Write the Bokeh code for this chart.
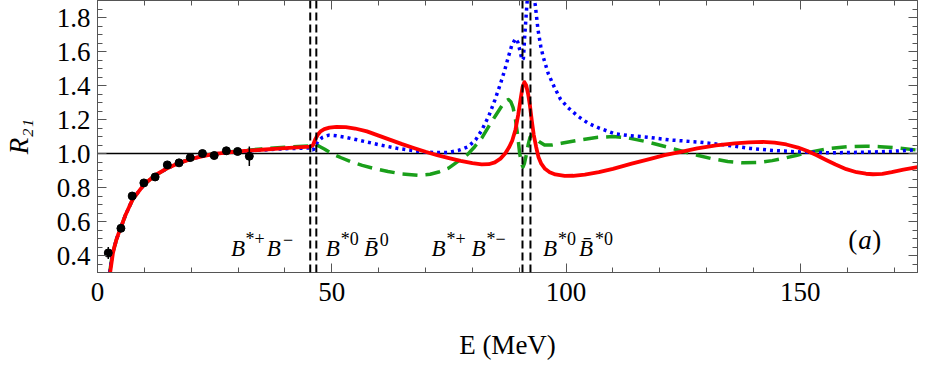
import math
from bokeh.plotting import figure
from bokeh.models import (Span, Label, LinearAxis, SingleIntervalTicker, ColumnDataSource,
                          PrintfTickFormatter, CustomJSTickFormatter)
from bokeh.embed import file_html
from bokeh.resources import INLINE

# ---------------- data ----------------
data_E = [2.3, 5.0, 7.4, 9.9, 12.3, 14.9, 17.4, 19.8, 22.4, 24.9, 27.5, 29.9, 32.4]
data_R = [0.415, 0.56, 0.75, 0.827, 0.862, 0.933, 0.945, 0.976, 1.0, 0.988, 1.016, 1.012, 0.984]
data_err = [0.035, 0.02, 0.02, 0.02, 0.02, 0.02, 0.02, 0.02, 0.02, 0.02, 0.02, 0.02, 0.057]

red_E = [2.7, 3.3, 3.6, 4.0, 4.5, 5.0, 6.0, 7.5, 10, 12.5, 15, 17.5, 20, 22.5, 25, 30, 35, 40, 45.4,
         46.0, 46.5, 47.0, 47.6, 48.4, 49.5, 51, 53, 55, 57.5, 60, 62.5, 65, 67.5, 70, 72.5, 75, 77.5,
         80, 82, 83.5, 84.8, 86, 87, 87.8, 88.5, 89.2, 89.8, 90.3, 90.7, 91.1, 91.5, 91.9, 92.3, 92.7,
         93.1, 93.6, 94.1, 94.7, 95.5, 96.5, 97.7, 99.7, 101.5, 104, 107, 110, 114, 118, 121, 124.5,
         128, 132, 136, 139, 142, 144.5, 147, 149.5, 151.5, 153.5, 155.5, 157.5, 159.8, 162, 164,
         165.5, 167.5, 169.5, 172, 175]
red_R = [0.30, 0.415, 0.45, 0.49, 0.53, 0.565, 0.64, 0.73, 0.82, 0.875, 0.915, 0.945, 0.968, 0.985,
         0.998, 1.012, 1.022, 1.032, 1.04, 1.05, 1.085, 1.11, 1.13, 1.143, 1.152, 1.157, 1.155, 1.147,
         1.13, 1.105, 1.08, 1.055, 1.032, 1.01, 0.99, 0.973, 0.957, 0.943, 0.936, 0.937, 0.948, 0.97,
         1.0, 1.035, 1.075, 1.14, 1.23, 1.32, 1.39, 1.42, 1.40, 1.35, 1.28, 1.19, 1.11, 1.04, 0.98,
         0.94, 0.91, 0.89, 0.877, 0.868, 0.869, 0.876, 0.89, 0.91, 0.94, 0.968, 0.99, 1.01, 1.03,
         1.048, 1.06, 1.066, 1.068, 1.064, 1.053, 1.035, 1.015, 0.99, 0.962, 0.935, 0.908, 0.89,
         0.881, 0.878, 0.88, 0.89, 0.905, 0.92]

green_E = [2.6, 3.2, 3.6, 4.0, 4.5, 5.0, 6.0, 7.5, 10, 12.5, 15, 17.5, 20, 22.5, 25, 30, 35, 40, 45.4,
           46.0, 46.6, 47.5, 48.5, 50, 52, 54, 56.5, 59, 62, 65, 68.6, 71, 73, 75, 77, 79, 80.5, 82,
           83.5, 85, 86.3, 87.2, 87.7, 88.2, 88.7, 89.2, 89.7, 90.1, 90.5, 90.8, 91.1, 91.5, 91.9,
           92.3, 92.8, 93.4, 94.2, 95.4, 97, 99, 102.5, 106.8, 110, 113, 117.4, 122, 125, 128, 131,
           134.5, 137.9, 141, 144, 147, 149.3, 152, 156.3, 160, 164, 167, 171, 175]
green_R = [0.30, 0.415, 0.45, 0.49, 0.53, 0.565, 0.64, 0.73, 0.82, 0.875, 0.915, 0.945, 0.968, 0.985,
           1.0, 1.015, 1.027, 1.037, 1.045, 1.05, 1.053, 1.04, 1.025, 1.0, 0.975, 0.952, 0.93, 0.912,
           0.894, 0.88, 0.872, 0.878, 0.893, 0.915, 0.955, 0.995, 1.04, 1.09, 1.16, 1.225, 1.28, 1.31,
           1.318, 1.305, 1.27, 1.2, 1.1, 1.0, 0.94, 0.92, 0.94, 0.99, 1.05, 1.095, 1.11, 1.095, 1.07,
           1.05, 1.05, 1.06, 1.078, 1.095, 1.1, 1.093, 1.068, 1.035, 1.012, 0.99, 0.97, 0.953, 0.945,
           0.947, 0.958, 0.975, 0.99, 1.008, 1.03, 1.04, 1.043, 1.04, 1.032, 1.02]

blue_E = [2.6, 3.2, 3.6, 4.0, 4.5, 5.0, 6.0, 7.5, 10, 12.5, 15, 17.5, 20, 22.5, 25, 30, 35, 40, 45.4,
          46.0, 46.4, 47.0, 48, 49.4, 51, 53, 56, 60, 64, 68.6, 72, 74.9, 77, 79.1, 80.7, 82, 83.5,
          84.8, 86, 86.9, 87.7, 88.4, 89.2, 89.7, 90.2, 90.6, 90.9, 91.2, 91.6, 92.0, 92.5, 93.0, 93.4,
          94.0, 94.6, 95.1, 96.2, 97.5, 98.8, 100.4, 102.5, 104.6, 107, 110.3, 113.5, 117.4, 122, 128,
          134, 139.3, 144, 149.3, 156.3, 161, 166.9, 171, 175]
blue_R = [0.30, 0.415, 0.45, 0.49, 0.53, 0.565, 0.64, 0.73, 0.82, 0.875, 0.915, 0.945, 0.968, 0.985,
          0.998, 1.012, 1.02, 1.028, 1.033, 1.02, 1.04, 1.07, 1.095, 1.108, 1.104, 1.095, 1.077, 1.052,
          1.03, 1.012, 1.005, 1.006, 1.018, 1.04, 1.08, 1.137, 1.22, 1.314, 1.41, 1.49, 1.57, 1.635,
          1.676, 1.655, 1.6, 1.55, 1.56, 1.7, 1.86, 2.0, 2.15, 2.0, 1.88, 1.73, 1.63, 1.57, 1.47, 1.39,
          1.32, 1.27, 1.22, 1.18, 1.15, 1.117, 1.105, 1.096, 1.08, 1.068, 1.05, 1.03, 1.018, 1.01,
          1.004, 1.006, 1.01, 1.015, 1.022]

thresholds = [45.4, 46.7, 90.7, 92.4]
x_ticks_interval = 50
y_ticks_interval = 0.2

# ---------------- figure ----------------
FONT = "Liberation Serif"
AX = "#555555"

p = figure(width=919, height=365, x_range=(0, 175), y_range=(0.3, 1.9),
           output_backend="svg", toolbar_location=None,
           min_border_left=97, min_border_right=2, min_border_top=0, min_border_bottom=93)
p.xgrid.visible = False
p.ygrid.visible = False
p.outline_line_color = AX
p.outline_line_width = 1


def style_axis(ax, interval, minor, labels=True, standoff=8):
    ax.ticker = SingleIntervalTicker(interval=interval, num_minor_ticks=minor)
    ax.major_tick_in = 9
    ax.major_tick_out = 0
    ax.minor_tick_in = 5
    ax.minor_tick_out = 0
    ax.axis_line_color = AX
    ax.major_tick_line_color = AX
    ax.minor_tick_line_color = AX
    ax.major_label_text_font = FONT
    ax.major_label_text_color = "black"
    ax.axis_label_text_font = FONT
    ax.axis_label_text_color = "black"
    if labels:
        ax.major_label_text_font_size = "27px"
        ax.major_label_standoff = standoff
    else:
        ax.formatter = CustomJSTickFormatter(code="return ''")
        ax.major_label_standoff = 0


style_axis(p.xaxis[0], x_ticks_interval, 5, True, 10)
style_axis(p.yaxis[0], y_ticks_interval, 4, True, 7)
p.yaxis[0].formatter = PrintfTickFormatter(format="%.1f")

p.xaxis[0].axis_label = "E (MeV)"
p.xaxis[0].axis_label_text_font_size = "27px"
p.xaxis[0].axis_label_text_font_style = "normal"
p.xaxis[0].axis_label_standoff = 26

p.yaxis[0].axis_label = "R\u2082\u2081"
p.yaxis[0].axis_label_text_font_size = "27px"
p.yaxis[0].axis_label_text_font_style = "italic"
p.yaxis[0].axis_label_standoff = 20

top_ax = LinearAxis()
right_ax = LinearAxis()
style_axis(top_ax, x_ticks_interval, 5, False)
style_axis(right_ax, y_ticks_interval, 4, False)
p.add_layout(top_ax, "above")
p.add_layout(right_ax, "right")

# reference line at 1
p.add_layout(Span(location=1.0, dimension="width", line_color="black", line_width=1.3, level="underlay"))

# curves
p.line(green_E, green_R, line_color="#1a9f1a", line_width=3.5, line_dash="15 8", line_join="round")
p.line(blue_E, blue_R, line_color="#0000ff", line_width=3.5, line_dash="3 4")
p.line(red_E, red_R, line_color="#ff0000", line_width=3.8, line_join="round")

# thresholds
for t in thresholds:
    p.add_layout(Span(location=t, dimension="height", line_color="black", line_width=2, line_dash="8 4"))

# data with error bars
src = ColumnDataSource(dict(x=data_E, y=data_R,
                            lo=[r - e for r, e in zip(data_R, data_err)],
                            hi=[r + e for r, e in zip(data_R, data_err)]))
p.segment(x0="x", y0="lo", x1="x", y1="hi", source=src, line_color="black", line_width=1.5)
p.scatter("x", "y", source=src, size=8, color="black")


# ---------------- texts ----------------
def piece(x, y, text, dx=0, dy=0, size=23, style="italic"):
    p.add_layout(Label(x=x, y=y, x_offset=dx, y_offset=dy, text=text, text_font=FONT,
                       text_font_size=f"{size}px", text_font_style=style, text_color="black",
                       text_baseline="alphabetic", text_align="left"))


LBL_Y = 0.443
SUP = 9
SS = 18
# B*+ B-
piece(28.5, LBL_Y, "B", 0)
piece(28.5, LBL_Y, "*+", 14.5, SUP, SS, "normal")
piece(28.5, LBL_Y, "B", 35.6)
piece(28.5, LBL_Y, "\u2212", 52, SUP, SS, "normal")
# B*0 Bbar0
piece(48.7, LBL_Y, "B", 0)
piece(48.7, LBL_Y, "*0", 15, SUP, SS, "normal")
piece(48.7, LBL_Y, "B\u0304", 38.3)
piece(48.7, LBL_Y, "0", 54, SUP, SS, "normal")
# B*+ B*-
piece(71.3, LBL_Y, "B", 0)
piece(71.3, LBL_Y, "*+", 15, SUP, SS, "normal")
piece(71.3, LBL_Y, "B", 40)
piece(71.3, LBL_Y, "*\u2212", 55, SUP, SS, "normal")
# B*0 Bbar*0
piece(95.05, LBL_Y, "B", 0)
piece(95.05, LBL_Y, "*0", 15, SUP, SS, "normal")
piece(95.05, LBL_Y, "B\u0304", 36)
piece(95.05, LBL_Y, "*0", 52, SUP, SS, "normal")
# (a)
piece(160.2, 0.49, "(", 0, 0, 27, "normal")
piece(160.2, 0.49, "a", 10, 0, 27, "italic")
piece(160.2, 0.49, ")", 24, 0, 27, "normal")

open("out.html", "w").write(file_html(p, INLINE))
